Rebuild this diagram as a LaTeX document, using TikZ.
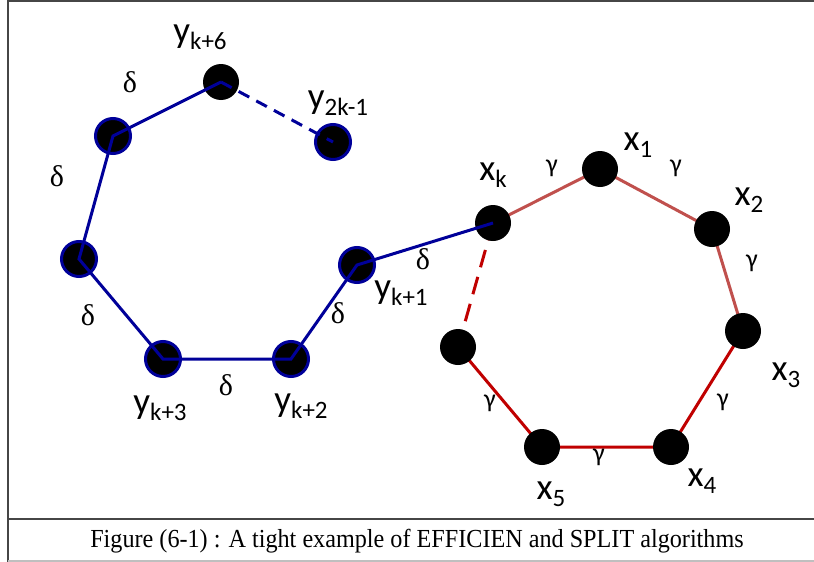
\documentclass[tikz,border=0pt]{standalone}
\usepackage{fontspec}
\usepackage{graphicx}
\setmainfont{Liberation Serif}
\newfontfamily\labelfont{Carlito}
\usetikzlibrary{positioning}
\definecolor{ypath}{RGB}{0,0,153}
\definecolor{xlight}{RGB}{192,80,77}
\definecolor{xdark}{RGB}{192,0,0}
\definecolor{framegray}{RGB}{70,70,70}
\newcommand{\vlab}[2]{{\fontsize{37}{37}\selectfont #1}\raisebox{-7pt}{\fontsize{25}{25}\selectfont #2}}
\tikzset{
    vertex/.style={circle, fill=black, minimum size=36pt, inner sep=0pt},
    yvertex/.style={vertex, draw=ypath, line width=3pt, minimum size=35pt},
    yedge/.style={ypath, line width=3pt},
    xedge/.style={line width=3pt},
    vlabel/.style={font=\labelfont, inner sep=0pt},
    dlabel/.style={font=\fontsize{30}{30}\selectfont, inner sep=0pt},
    glabel/.style={font=\labelfont\fontsize{26}{26}\selectfont, inner sep=0pt},
}

\begin{document}
\begin{tikzpicture}[x=1pt, y=-1pt]
\useasboundingbox (0,0) rectangle (814,562);

% Frame and caption line
\draw[framegray, line width=1.5pt] (8,562) -- (8,1) -- (830,1);
\draw[framegray, line width=1.5pt] (8,519) -- (830,519);
\draw[black!25, line width=1.2pt] (8,561) -- (830,561);
\node[font=\fontsize{26}{26}\selectfont, inner sep=0pt] (caption) at (417,541) {\scalebox{0.93}[1]{Figure (6-1) : A tight example of EFFICIEN and SPLIT algorithms}};

% Red cycle (x side)
\coordinate (xk-c) at (493,223);
\coordinate (x1-c) at (600,169);
\coordinate (x2-c) at (712,229);
\coordinate (x3-c) at (743,331);
\coordinate (x4-c) at (671,447);
\coordinate (x5-c) at (542,447);
\coordinate (x6-c) at (458,347);
\draw[xedge, xlight] (xk-c) -- (x1-c) -- (x2-c) -- (x3-c);
\draw[xedge, xdark] (x3-c) -- (x4-c) -- (x5-c) -- (x6-c);
\draw[xedge, xdark, dash pattern=on 18pt off 10pt] (xk-c) -- (x6-c);

\node[vertex] (xk) at (xk-c) {};
\node[vertex] (x1) at (x1-c) {};
\node[vertex] (x2) at (x2-c) {};
\node[vertex] (x3) at (x3-c) {};
\node[vertex] (x4) at (x4-c) {};
\node[vertex] (x5) at (x5-c) {};
\node[vertex] (x6) at (x6-c) {};

% Blue path (y side)
\node[vertex] (yk6) at (221,82) {};
\node[yvertex] (yk5) at (113,136) {};
\node[yvertex] (yk4) at (79,259) {};
\node[yvertex] (yk3) at (163,359) {};
\node[yvertex] (yk2) at (291,359) {};
\node[yvertex] (yk1) at (357,265) {};
\node[yvertex] (y2k1) at (333,142) {};

\draw[yedge] (xk.center) -- (yk1.center) -- (yk2.center) -- (yk3.center) -- (yk4.center) -- (yk5.center) -- (yk6.center);
\draw[yedge, dash pattern=on 12pt off 8pt] (yk6.center) -- (y2k1.center);

% Vertex labels
\node[vlabel] (yk6-lbl) at (200,37) {\vlab{y}{k+6}};
\node[vlabel] (y2k1-lbl) at (338,103) {\vlab{y}{2k-1}};
\node[vlabel] (yk1-lbl) at (401,293) {\vlab{y}{k+1}};
\node[vlabel] (yk2-lbl) at (301,406) {\vlab{y}{k+2}};
\node[vlabel] (yk3-lbl) at (160,408) {\vlab{y}{k+3}};
\node[vlabel] (xk-lbl) at (493,175) {\vlab{x}{k}};
\node[vlabel] (x1-lbl) at (638,145) {\vlab{x}{1}};
\node[vlabel] (x2-lbl) at (749,200) {\vlab{x}{2}};
\node[vlabel] (x3-lbl) at (786,375) {\vlab{x}{3}};
\node[vlabel] (x4-lbl) at (702,481) {\vlab{x}{4}};
\node[vlabel] (x5-lbl) at (551,494) {\vlab{x}{5}};

% Edge weights
\node[dlabel] (d1) at (130,82) {δ};
\node[dlabel] (d2) at (57,176) {δ};
\node[dlabel] (d3) at (88,315) {δ};
\node[dlabel] (d4) at (226,385) {δ};
\node[dlabel] (d5) at (338,313) {δ};
\node[dlabel] (d6) at (423,259) {δ};
\node[glabel] (g1) at (552,168) {γ};
\node[glabel] (g2) at (676,168) {γ};
\node[glabel] (g3) at (752,263) {γ};
\node[glabel] (g4) at (723,402) {γ};
\node[glabel] (g5) at (599,457) {γ};
\node[glabel] (g6) at (490,403) {γ};

\end{tikzpicture}
\end{document}
